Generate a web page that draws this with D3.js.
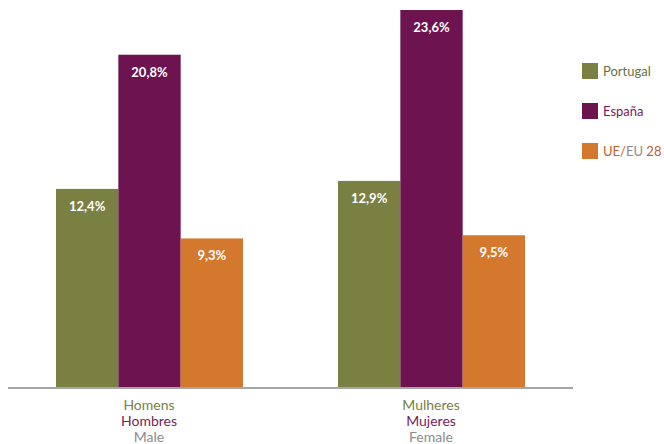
<!DOCTYPE html>
<html lang="pt">
<head>
<meta charset="UTF-8">
<title>Homens / Mulheres</title>
<style>
    body { margin: 0; background: #fff; }
    text { font-family: Lato, "Open Sans", sans-serif; }
    .val { fill: #fff; font-weight: bold; font-size: 13px; }
</style>
<script src="https://d3js.org/d3.v7.min.js"></script>
</head>
<body>
<svg width="664" height="444"></svg>
<script>
    // dados
    const categories = [
        ["Homens", "Hombres", "Male"],
        ["Mulheres", "Mujeres", "Female"]
    ];
    const series = ["Portugal", "España", "UE/EU 28"];
    const values = [
        [12.4, 20.8, 9.3],
        [12.9, 23.6, 9.5]
    ];
    const colors = ["#7a7f42", "#6d1350", "#d4782e"];
    const langColors = ["#7a7f42", "#7a1a5a", "#8c8c8c"];

    const svg = d3.select("svg");
    const base = 387;

    const x0 = d3.scaleBand().domain([0, 1]).range([8, 572]);
    const x1 = d3.scaleBand().domain([0, 1, 2]).range([48, 235]);
    const y = d3.scaleLinear().domain([0, 23.6]).range([base, 10]);

    const groups = svg.selectAll(".grp")
        .data(values)
        .enter()
        .append("g")
        .attr("transform", (d, i) => `translate(${x0(i)},0)`);

    groups.selectAll("rect")
        .data(d => d)
        .enter()
        .append("rect")
        .attr("x", (d, j) => x1(j))
        .attr("y", d => y(d))
        .attr("width", x1.bandwidth())
        .attr("height", d => base - y(d))
        .attr("fill", (d, j) => colors[j]);

    groups.selectAll(".val")
        .data(d => d)
        .enter()
        .append("text")
        .attr("class", "val")
        .attr("x", (d, j) => x1(j) + x1.bandwidth() / 2)
        .attr("y", d => y(d) + 22)
        .attr("text-anchor", "middle")
        .text(d => d.toFixed(1).replace(".", ",") + "%");

    // eixo
    svg.append("line")
        .attr("x1", 8).attr("x2", 573)
        .attr("y1", base + 1).attr("y2", base + 1)
        .attr("stroke", "#a6a6a6")
        .attr("stroke-width", 2);

    // rótulos das categorias
    categories.forEach((lines, i) => {
        const t = svg.append("text")
            .attr("x", x0(i) + x0.bandwidth() / 2)
            .attr("text-anchor", "middle")
            .style("font-size", "14px");
        lines.forEach((s, k) => {
            t.append("tspan")
                .attr("x", x0(i) + x0.bandwidth() / 2)
                .attr("y", 410 + k * 16)
                .attr("fill", langColors[k])
                .text(s);
        });
    });

    // legenda
    const leg = svg.selectAll(".leg")
        .data(series)
        .enter()
        .append("g")
        .attr("transform", (d, i) => `translate(582,${63 + i * 40})`);

    leg.append("rect")
        .attr("width", 16).attr("height", 16)
        .attr("fill", (d, i) => colors[i]);

    const lt = leg.append("text")
        .attr("x", 21).attr("y", 13)
        .style("font-size", "13px");

    lt.filter((d, i) => i < 2)
        .attr("fill", (d, i) => i === 0 ? "#6b7040" : "#7a1a5a")
        .text(d => d);

    const eu = lt.filter((d, i) => i === 2);
    eu.append("tspan").attr("fill", "#c0602e").text("UE/");
    eu.append("tspan").attr("fill", "#8c8c8c").text("EU");
    eu.append("tspan").attr("fill", "#c0602e").text(" 28");
</script>
</body>
</html>
